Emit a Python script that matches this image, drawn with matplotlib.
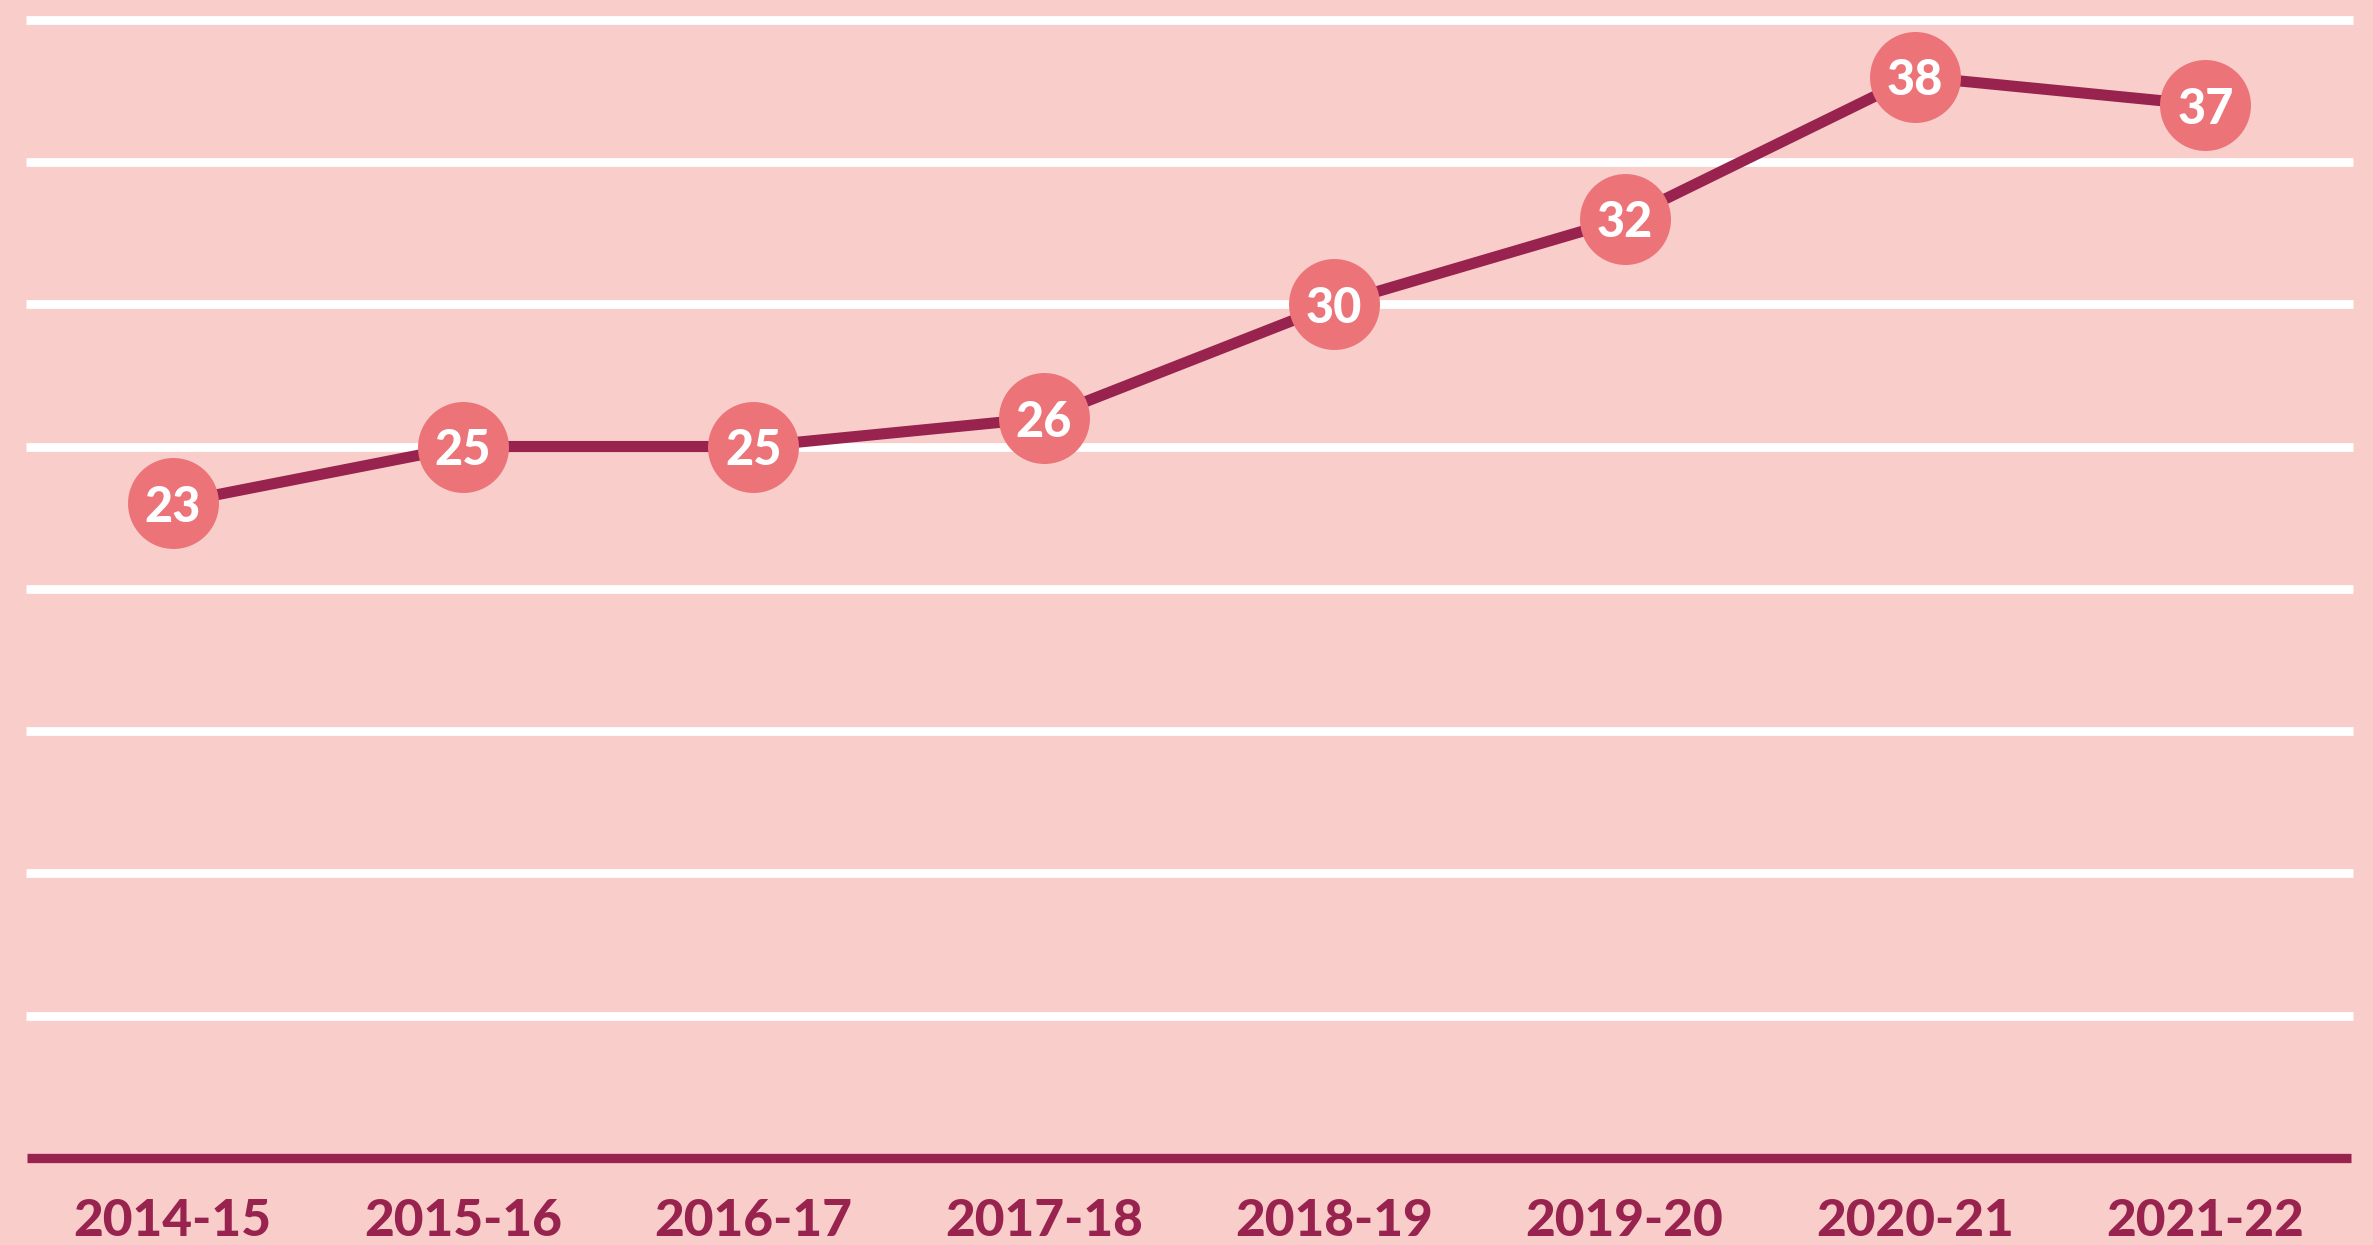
import matplotlib.pyplot as plt

# school years and the values shown on the chart
years = ["2014-15", "2015-16", "2016-17", "2017-18",
         "2018-19", "2019-20", "2020-21", "2021-22"]
# where each point sits on the chart (the 2019-20 dot sits at 33)
values = [23, 25, 25, 26, 30, 33, 38, 37]
labels = ["23", "25", "25", "26", "30", "32", "38", "37"]
grid_levels = [5, 10, 15, 20, 25, 30, 35, 40]

BG = "#F9CECA"
DARK = "#98234F"
DOT = "#EC7479"

fig = plt.figure(figsize=(23.73, 12.45), dpi=100, facecolor=BG)
ax = fig.add_axes([0, 0, 1, 1], facecolor=BG)

x = list(range(len(years)))

# white horizontal guides + dark baseline
ax.hlines(grid_levels, -0.505, 7.508, colors="white", linewidth=6.3, zorder=1)
ax.hlines(0, -0.50, 7.50, colors=DARK, linewidth=6.7, zorder=2)

ax.plot(x, values, color=DARK, linewidth=8, zorder=3, solid_capstyle="butt")
ax.plot(x, values, linestyle="none", marker="o", markersize=65.5,
        markerfacecolor=DOT, markeredgewidth=0, zorder=4)

for xi, v, lab in zip(x, values, labels):
    ax.text(xi, v, lab, color="white", fontsize=35, fontweight="black",
            family=["Lato", "DejaVu Sans"], ha="center", va="center_baseline",
            zorder=5)

ax.set_xlim(-0.594, 7.577)
ax.set_ylim(-3.057, 40.69)

ax.set_xticks(x)
ax.set_xticklabels(years, color=DARK, fontsize=37, fontweight="black",
                   family=["Lato", "DejaVu Sans"])
ax.tick_params(axis="x", length=0, pad=-34, direction="in")
ax.set_yticks([])
for s in ax.spines.values():
    s.set_visible(False)

fig.savefig("out.png", dpi=100, facecolor=BG)
